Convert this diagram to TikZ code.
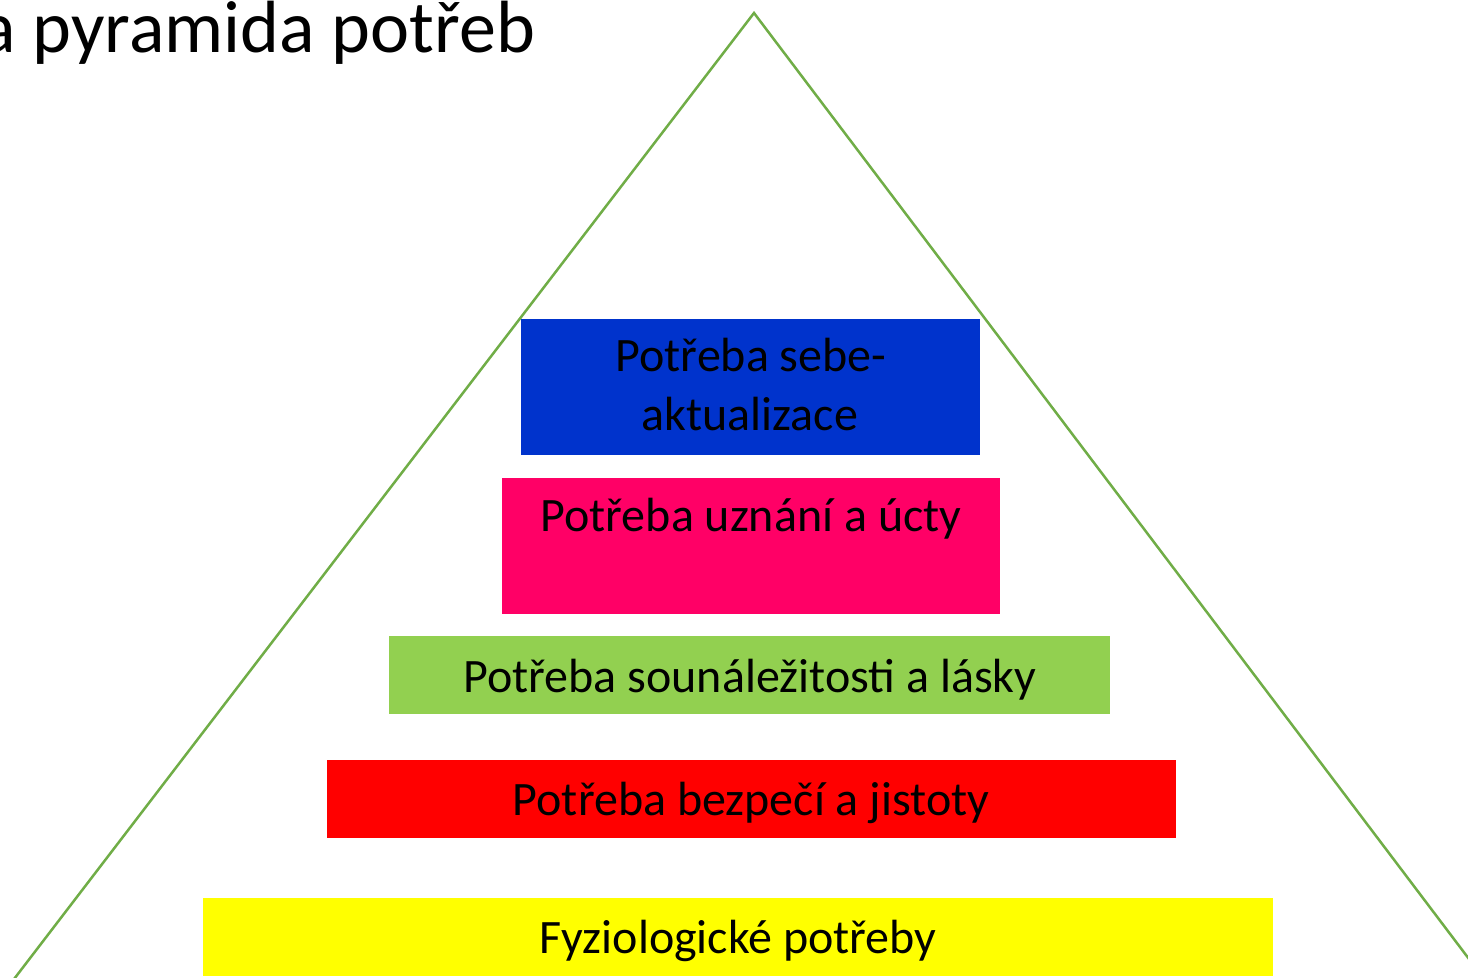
\documentclass[tikz,border=0pt]{standalone}
\usepackage{fontspec}
\setmainfont{Carlito}
\definecolor{pyrline}{HTML}{70AD47}
\definecolor{lvlblue}{HTML}{0033CC}
\definecolor{lvlpink}{HTML}{FF0066}
\definecolor{lvlgreen}{HTML}{92D050}
\definecolor{lvlred}{HTML}{FF0000}
\definecolor{lvlyellow}{HTML}{FFFF00}
\tikzset{
  level/.style={draw=none, inner sep=0pt, outer sep=0pt, rectangle},
  lbl/.style={inner sep=0pt, outer sep=0pt, anchor=base, text=black, font=\fontsize{24}{28.8}\selectfont},
  ttl/.style={inner sep=0pt, outer sep=0pt, anchor=base east, text=black, font=\fontsize{37}{44}\selectfont},
  pyr/.style={draw=pyrline, line width=1.25pt}
}
\begin{document}
\begin{tikzpicture}[x=0.5pt, y=-0.5pt]
\useasboundingbox (0,0) rectangle (1468,978);
\clip (0,0) rectangle (1468,978);
% pyramid outline
\coordinate (apex) at (754,13);
\coordinate (bl) at (-2,1000);
\coordinate (br) at (1500,1000);
\draw[pyr, line join=miter] (bl) -- (apex) -- (br);
% levels
\node[level, fill=lvlblue, minimum width=229.5pt, minimum height=68pt] (b1) at (750.5,387) {};
\node[level, fill=lvlpink, minimum width=249pt, minimum height=68pt] (b2) at (751,546) {};
\node[level, fill=lvlgreen, minimum width=360.5pt, minimum height=39pt] (b3) at (749.5,675) {};
\node[level, fill=lvlred, minimum width=424.5pt, minimum height=39pt] (b4) at (751.5,799) {};
\node[level, fill=lvlyellow, minimum width=535pt, minimum height=39pt] (b5) at (738,937) {};
% labels
\node[lbl] (t1a) at (751,372) {Potřeba sebe-};
\node[lbl] (t1b) at (750,431) {aktualizace};
\node[lbl] (t2) at (751,532) {Potřeba uznání a úcty};
\node[lbl] (t3) at (750,692) {Potřeba sounáležitosti a lásky};
\node[lbl] (t4) at (751,815) {Potřeba bezpečí a jistoty};
\node[lbl] (t5) at (738,953) {Fyziologické potřeby};
% title
\node[ttl] (title) at (535,53) {a pyramida potřeb};
\end{tikzpicture}
\end{document}
